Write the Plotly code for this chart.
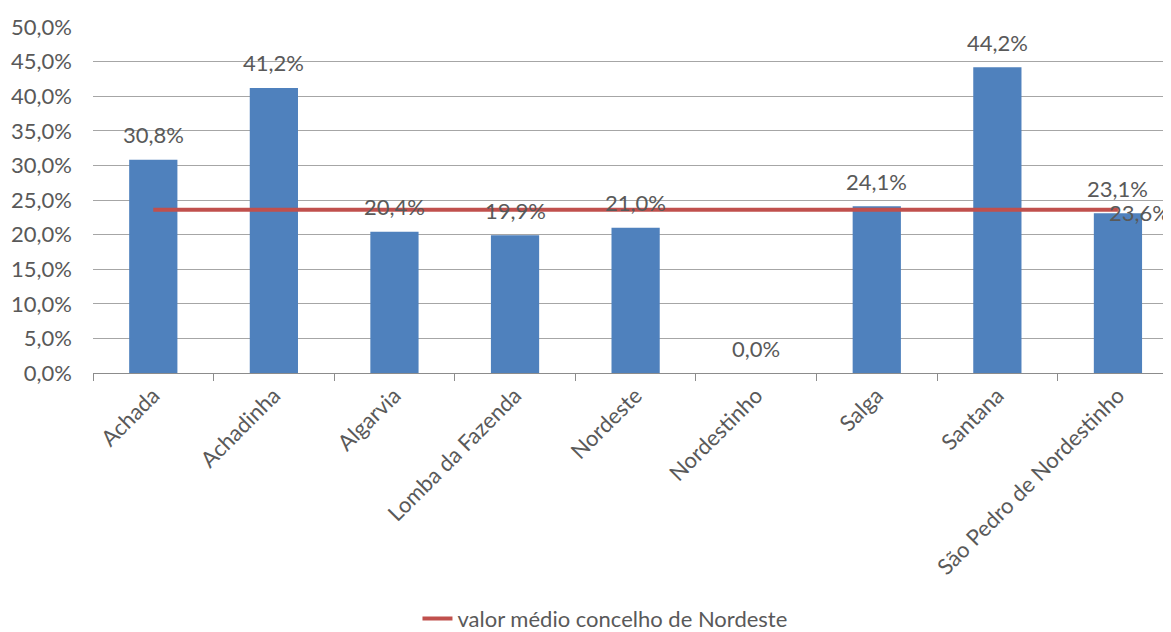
import plotly.graph_objects as go

categories = ["Achada", "Achadinha", "Algarvia", "Lomba da Fazenda", "Nordeste",
              "Nordestinho", "Salga", "Santana", "São Pedro de Nordestinho"]
values = [30.8, 41.2, 20.4, 19.9, 21.0, 0.0, 24.1, 44.2, 23.1]
mean_value = 23.6
mean_name = "valor médio concelho de Nordeste"
y_ticks = [0, 5, 10, 15, 20, 25, 30, 35, 40, 45, 50]

FONT = "Lato"
TXT = "#595959"
FS = 22

def fmt(v):
    return f"{v:.1f}%".replace(".", ",")

fig = go.Figure()
fig.add_trace(go.Bar(x=categories, y=values, width=0.4, marker_color="#4F81BD",
                     marker_line_width=0, showlegend=False, hoverinfo="skip"))
fig.add_trace(go.Scatter(x=categories, y=[mean_value] * len(categories), mode="lines",
                         line=dict(color="#C0504D", width=4), name=mean_name))

annotations = []
for c, v in zip(categories, values):
    annotations.append(dict(x=c, y=v, text=fmt(v), showarrow=False, yanchor="middle",
                            yshift=25, font=dict(family=FONT, size=FS, color=TXT)))
annotations.append(dict(x=categories[-1], y=mean_value, text=fmt(mean_value), showarrow=False,
                        xanchor="left", yanchor="middle", xshift=-11, yshift=-3,
                        font=dict(family=FONT, size=FS, color=TXT)))

# page body has an 8px default margin; figure sized to fit the 1171x632 window
fig.update_layout(
    width=1163, height=624,
    margin=dict(l=85, r=0, t=19, b=259, autoexpand=False),
    plot_bgcolor="white", paper_bgcolor="white",
    font=dict(family=FONT, size=FS, color=TXT),
    annotations=annotations,
    legend=dict(orientation="h", x=0.301, xanchor="left", y=-0.71, yanchor="middle",
                font=dict(family=FONT, size=FS, color=TXT), itemwidth=30),
    xaxis=dict(type="category", range=[-0.5, 8.44], tickangle=-45, showline=True,
               linecolor="#8C8C8C", linewidth=1, ticks="outside", tickson="boundaries",
               ticklen=7, tickcolor="#8C8C8C", showgrid=False, automargin=False,
               tickfont=dict(family=FONT, size=FS, color=TXT)),
    yaxis=dict(range=[0, 50], tickvals=y_ticks, ticktext=[fmt(t) for t in y_ticks],
               showgrid=True, gridcolor="#A6A6A6", gridwidth=1, zeroline=False,
               ticks="", ticklabelstandoff=20, automargin=False,
               tickfont=dict(family=FONT, size=FS, color=TXT)),
)

fig.write_html("out.html")
